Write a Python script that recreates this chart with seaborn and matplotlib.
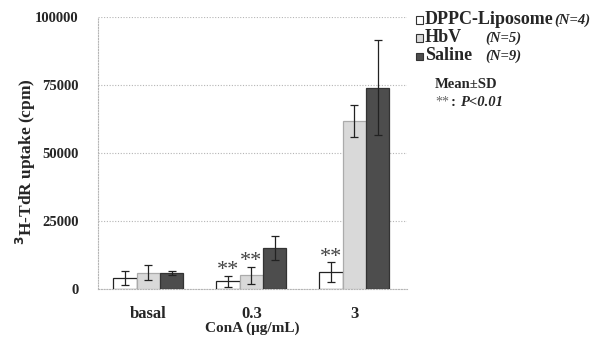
import numpy as np
import pandas as pd
import seaborn as sns
import matplotlib
matplotlib.use("Agg")
import matplotlib.pyplot as plt
from matplotlib.patches import Rectangle

# Data: 3H-TdR uptake (cpm), mean and SD
doses = ["basal", "0.3", "3"]
groups = ["DPPC-Liposome", "HbV", "Saline"]
group_n = ["(N=4)", "(N=5)", "(N=9)"]
dppc_mean = [4000, 2900, 6100]
dppc_sd = [2500, 2000, 3700]
hbv_mean = [6000, 5100, 61800]
hbv_sd = [2700, 3100, 6000]
saline_mean = [5800, 15000, 74000]
saline_sd = [800, 4500, 17500]
# significance marks (** : P<0.01) per group, per dose
dppc_sig = [False, True, True]
hbv_sig = [False, True, False]
saline_sig = [False, False, False]
yticks = [0, 25000, 50000, 75000, 100000]

means = [dppc_mean, hbv_mean, saline_mean]
sds = [dppc_sd, hbv_sd, saline_sd]
sigs = [dppc_sig, hbv_sig, saline_sig]

df = pd.DataFrame({
    "dose": doses * 3,
    "group": [g for g in groups for _ in doses],
    "mean": sum(means, []),
})

sns.set_theme(style="white")
plt.rcParams["font.family"] = ["Liberation Serif", "DejaVu Serif"]
plt.rcParams["font.weight"] = "bold"

fills = ["#ffffff", "#d9d9d9", "#4d4d4d"]
edges = ["#222222", "#ababab", "#333333"]

fig = plt.figure(figsize=(5.95, 3.44), dpi=100)
ax = fig.add_axes([98 / 595, 1 - 289 / 344, (407 - 98) / 595, (289 - 17) / 344])

sns.barplot(data=df, x="dose", y="mean", hue="group", order=doses, hue_order=groups,
            palette=fills, width=0.68, errorbar=None, legend=False, ax=ax, zorder=3)

# style bars per group and add SD bars and significance marks
bar_containers = list(ax.containers)
for gi, container in enumerate(bar_containers):
    for di, bar in enumerate(container.patches):
        bar.set_edgecolor(edges[gi])
        bar.set_linewidth(0.9)
        cx = bar.get_x() + bar.get_width() / 2
        m, s = means[gi][di], sds[gi][di]
        ax.errorbar(cx, m, yerr=s, fmt="none", ecolor="#222222", elinewidth=0.9,
                    capsize=2.7, capthick=0.9, zorder=4)
        if sigs[gi][di]:
            ax.annotate("**", (cx, m + s), xytext=(0, -3), textcoords="offset points",
                        ha="center", va="bottom", fontsize=16, fontweight="normal",
                        color="#444444")

ax.set_xlim(-0.49, 2.51)
ax.set_ylim(0, 100000)
ax.set_yticks(yticks)
ax.set_yticklabels([str(v) for v in yticks])
ax.tick_params(axis="y", length=0, pad=14, labelsize=10.5)
ax.tick_params(axis="x", length=0, pad=12, labelsize=12)
for lab in ax.get_xticklabels() + ax.get_yticklabels():
    lab.set_fontweight("bold")
ax.yaxis.grid(True, linestyle=(0, (1, 1.5)), color="#b5b5b5", linewidth=0.8, zorder=0)
ax.xaxis.grid(False)
for side in ["top", "right"]:
    ax.spines[side].set_visible(False)
for side in ["left", "bottom"]:
    ax.spines[side].set_linestyle((0, (1, 1.5)))
    ax.spines[side].set_color("#b5b5b5")
    ax.spines[side].set_linewidth(0.8)

ax.set_xlabel("ConA (\u03bcg/mL)", fontsize=11, fontweight="bold", labelpad=0)
ax.set_ylabel("$^{3}$H-TdR uptake (cpm)", fontsize=12.5, fontweight="bold")
ax.yaxis.set_label_coords(-0.195, 0.47)

# legend block on the right
rows_y = [20, 38, 56]
n_x = [None, 485, 485]
for gi, (name, n) in enumerate(zip(groups, group_n)):
    yc = 1 - rows_y[gi] / 344
    fig.patches.append(Rectangle((416 / 595, yc - 3.5 / 344), 7 / 595, 7 / 344,
                                 transform=fig.transFigure, facecolor=fills[gi],
                                 edgecolor="#333333", linewidth=0.8))
    t = fig.text(425 / 595, yc, name, fontsize=13, fontweight="bold",
                 ha="left", va="center")
    if n_x[gi] is None:
        fig.canvas.draw()
        bb = t.get_window_extent()
        xpos = (bb.x1 + 1) / 595
    else:
        xpos = n_x[gi] / 595
    fig.text(xpos, yc, n, fontsize=10.5, fontweight="bold", style="italic",
             ha="left", va="center")

fig.text(435 / 595, 1 - 85 / 344, "Mean\u00b1SD", fontsize=10.5, fontweight="bold",
         ha="left", va="center")
fig.text(435 / 595, 1 - 102 / 344, "**", fontsize=10, fontweight="normal",
         ha="left", va="center", color="#666666")
fig.text(451 / 595, 1 - 102 / 344, ":", fontsize=10.5, fontweight="bold",
         ha="left", va="center")
fig.text(460 / 595, 1 - 102 / 344, "P<0.01", fontsize=10.5, fontweight="bold",
         style="italic", ha="left", va="center")

fig.savefig("out.png", dpi=100)
